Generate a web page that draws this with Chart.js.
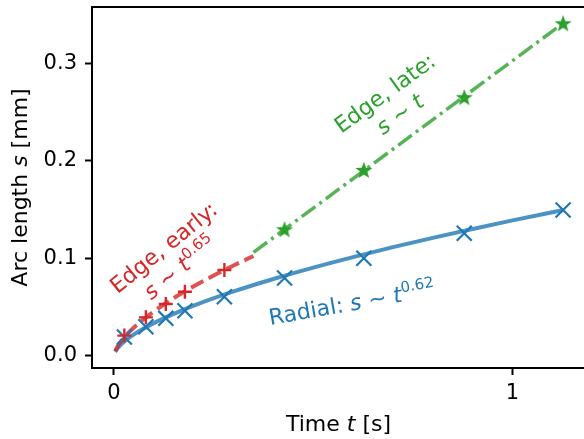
<!DOCTYPE html>
<html><head><meta charset="utf-8">
<script src="https://cdn.jsdelivr.net/npm/chart.js@4/dist/chart.umd.min.js"></script>
<style>html,body{margin:0;padding:0;overflow:hidden;background:#fff;width:584px;height:439px}canvas{display:block}</style>
</head><body><canvas id="c" width="592" height="439"></canvas>
<script>
// ---- data ----
const timesRadial = [0.026, 0.080, 0.130, 0.178, 0.277, 0.428, 0.627, 0.879, 1.127];
const radialS     = [0.019, 0.0296, 0.0382, 0.046, 0.0604, 0.0796, 0.0999, 0.1256, 0.1495];
const timesEarly  = [0.026, 0.080, 0.130, 0.178, 0.277];
const earlyS      = [0.0205, 0.0392, 0.0529, 0.0655, 0.0878];
const timesLate   = [0.428, 0.627, 0.879, 1.127];
const lateS       = [0.1297, 0.1906, 0.2653, 0.3413];
// fitted curves
const radialFitT = [0.003, 0.01, 0.025, 0.05, 0.1, 0.15, 0.2, 0.3, 0.4, 0.5, 0.6, 0.7, 0.8, 0.9, 1.0, 1.127];
const radialFitS = [0.0038, 0.0080, 0.0141, 0.0217, 0.0333, 0.0428, 0.0512, 0.0658, 0.0786, 0.0903, 0.1011, 0.1113, 0.1209, 0.1300, 0.1388, 0.1495];
const earlyFitT  = [0.003, 0.01, 0.025, 0.05, 0.1, 0.15, 0.2, 0.25, 0.3, 0.35];
const earlyFitS  = [0.0046, 0.0101, 0.0184, 0.0289, 0.0453, 0.0590, 0.0711, 0.0822, 0.0925, 0.1022];
const lateFitT   = [0.35, 1.127];
const lateFitS   = [0.106, 0.3413];
// ticks
const xTicks = [0, 1], xTickLabels = ['0', '1'];
const yTicks = [0, 0.1, 0.2, 0.3], yTickLabels = ['0.0', '0.1', '0.2', '0.3'];
// text
const xTitle = [{text:'Time '},{text:'t',italic:true},{text:' [s]'}];
const yTitle = [{text:'Arc length '},{text:'s',italic:true},{text:' [mm]'}];

const BLUE='#1f77b4', RED='#d62728', GREEN='#2ca02c';
const FONT='"DejaVu Sans"';
Chart.defaults.font.family = 'DejaVu Sans';
Chart.defaults.font.size = 21;
Chart.defaults.color = '#000';

function pts(xs, ys){ return xs.map((x,i)=>({x:x, y:ys[i]})); }

function starImg(){
  const c=document.createElement('canvas'); c.width=20; c.height=20;
  const g=c.getContext('2d'); g.fillStyle=GREEN; g.beginPath();
  const R=9, r=3.7, cx=10, cy=10.7;
  for(let i=0;i<10;i++){ const a=-Math.PI/2+i*Math.PI/5; const rr=i%2?r:R; g.lineTo(cx+rr*Math.cos(a), cy+rr*Math.sin(a)); }
  g.closePath(); g.fill(); return c;
}

const annotations = [
  {color:RED, t:0.1438, s:0.1012, angle:39, lines:[
    [{text:'Edge, early:'}],
    [{text:'s',italic:true},{text:' ~ '},{text:'t',italic:true},{text:'0.65',sup:true}]]},
  {color:GREEN, t:0.6976, s:0.2594, angle:36, lines:[
    [{text:'Edge, late:'}],
    [{text:'s',italic:true},{text:' ~ '},{text:'t',italic:true}]]},
  {color:BLUE, t:0.5965, s:0.0545, angle:10, lines:[
    [{text:'Radial: '},{text:'s',italic:true},{text:' ~ '},{text:'t',italic:true},{text:'0.62',sup:true}]]}
];

function fontFor(seg,size){ return (seg.italic?'italic ':'')+(seg.sup?Math.round(size*0.7):size)+'px '+FONT; }
function drawRich(ctx, lines, cx, cy, angleDeg, color, size, lineH){
  ctx.save(); ctx.translate(cx,cy); ctx.rotate(-angleDeg*Math.PI/180);
  ctx.fillStyle=color; ctx.textBaseline='alphabetic'; ctx.textAlign='left';
  const n=lines.length;
  lines.forEach((segs,i)=>{
    let w=0; const ws=segs.map(s=>{ctx.font=fontFor(s,size); const m=ctx.measureText(s.text).width; w+=m; return m;});
    let x=-w/2; const base=(i-(n-1)/2)*lineH + size*0.365;
    segs.forEach((s,j)=>{ctx.font=fontFor(s,size); ctx.fillText(s.text,x, base-(s.sup?size*0.42:0)); x+=ws[j];});
  });
  ctx.restore();
}

const deco = {
  id:'deco',
  afterDatasetsDraw(chart){
    const ctx=chart.ctx, a=chart.chartArea, xs=chart.scales.x, ys=chart.scales.y;
    ctx.save();
    ctx.strokeStyle='#000'; ctx.lineWidth=2;
    ctx.beginPath();
    ctx.moveTo(a.right+1, a.top); ctx.lineTo(a.left, a.top); ctx.lineTo(a.left, a.bottom); ctx.lineTo(a.right+1, a.bottom);
    ctx.stroke();
    annotations.forEach(an=>drawRich(ctx, an.lines, xs.getPixelForValue(an.t), ys.getPixelForValue(an.s), an.angle, an.color, 22, 26));
    // axis titles
    drawRich(ctx, [xTitle], 338.5, 431-22*0.365, 0, '#000', 22, 26);
    drawRich(ctx, [yTitle], 27-22*0.365, (a.top+a.bottom)/2, 90, '#000', 22, 26);
    ctx.restore();
  }
};

function zeroPad(s){ s.paddingTop=0; s.paddingBottom=0; s.paddingLeft=0; s.paddingRight=0; }
const tickGrid = {display:true, drawOnChartArea:false, drawTicks:true, tickLength:7, tickColor:'#000', tickWidth:2, color:'#000'};

new Chart(document.getElementById('c'), {
  type:'scatter',
  data:{datasets:[
    {data:pts(timesLate,lateS), pointStyle:starImg(), pointRadius:9, showLine:false, order:1, clip:false},
    {data:pts(timesEarly,earlyS), pointStyle:'cross', pointRadius:7, pointBorderWidth:2.4, pointBorderColor:RED, showLine:false, order:2},
    {data:pts(timesRadial,radialS), pointStyle:'crossRot', pointRadius:10.6, pointBorderWidth:2.2, pointBorderColor:BLUE, showLine:false, order:3},
    {data:pts(lateFitT,lateFitS), showLine:true, pointRadius:0, borderColor:'rgba(44,160,44,0.8)', borderWidth:3.5, borderDash:[17,5,3,5], borderCapStyle:'butt', order:10},
    {data:pts(earlyFitT,earlyFitS), showLine:true, pointRadius:0, borderColor:'rgba(214,39,40,0.8)', borderWidth:4, borderDash:[14,6], borderCapStyle:'butt', cubicInterpolationMode:'monotone', order:11},
    {data:pts(radialFitT,radialFitS), showLine:true, pointRadius:0, borderColor:'rgba(31,119,180,0.8)', borderWidth:4, cubicInterpolationMode:'monotone', order:12}
  ]},
  options:{
    responsive:false, devicePixelRatio:1, animation:false, events:[],
    layout:{autoPadding:false, padding:{top:7, right:6.5, left:0, bottom:0}},
    plugins:{legend:{display:false}, tooltip:{enabled:false}},
    scales:{
      x:{type:'linear', min:-0.0552, max:1.1832, grid:tickGrid, border:{display:false},
         afterBuildTicks(s){ s.ticks = xTicks.map(v=>({value:v})); },
         afterFit(s){ s.height = 71; zeroPad(s); },
         ticks:{color:'#000', font:{family:'DejaVu Sans', size:21}, padding:6, maxRotation:0, autoSkip:false,
           callback(v){ const i=xTicks.indexOf(v); return i>=0?xTickLabels[i]:''; }}},
      y:{type:'linear', min:-0.0128, max:0.358, grid:tickGrid, border:{display:false},
         afterBuildTicks(s){ s.ticks = yTicks.map(v=>({value:v})); },
         afterFit(s){ s.width = 92; zeroPad(s); },
         ticks:{color:'#000', font:{family:'DejaVu Sans', size:21}, padding:8, autoSkip:false,
           callback(v){ const i=yTicks.findIndex(t=>Math.abs(t-v)<1e-9); return i>=0?yTickLabels[i]:''; }}}
    }
  },
  plugins:[deco]
});
</script></body></html>
